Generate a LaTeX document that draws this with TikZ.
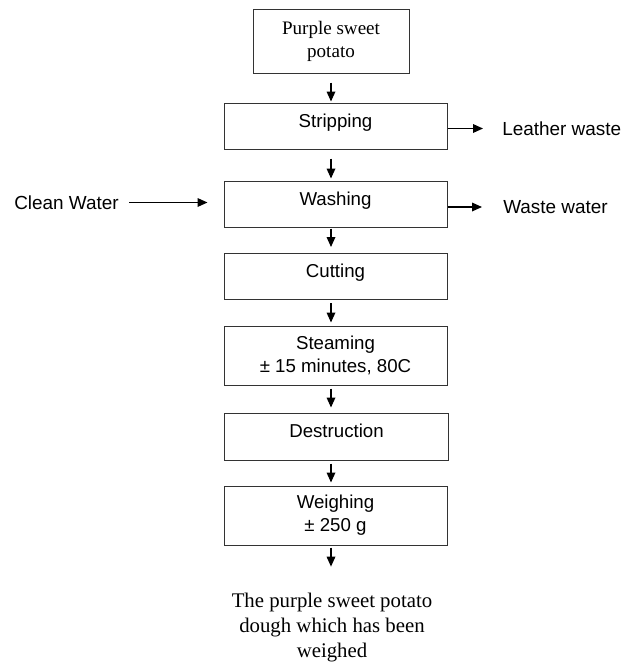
\documentclass[tikz,border=0pt]{standalone}
\usepackage{fontspec}
\setmainfont{Liberation Serif}
\newfontfamily\arialfont{Liberation Sans}
\usetikzlibrary{arrows.meta}

\begin{document}
\begin{tikzpicture}[x=0.75pt,y=0.75pt,yscale=-1,xscale=1,
	stepbox/.style={draw=black!80,line width=0.75pt,minimum width=167.25pt,minimum height=34.5pt,inner sep=0pt,align=center,font=\arialfont\fontsize{14}{17.25}\selectfont},
	onerow/.style={text height=10pt,text depth=8.5pt},
	tallbox/.style={minimum height=44.25pt},
	sidetext/.style={inner sep=0pt,anchor=west,font=\arialfont\fontsize{14.2}{17}\selectfont},
	flow/.style={-{Triangle[length=7.5pt,width=6.5pt]},line width=0.9pt}]
	\useasboundingbox (0,0) rectangle (624,665);
	% process boxes
	\node [stepbox,minimum width=117pt,minimum height=48pt,font=\fontsize{14.3}{17.25}\selectfont] (potato) at (331,41) {Purple sweet\\potato};
	\node [stepbox,onerow] (strip) at (335.5,126) {Stripping};
	\node [stepbox,onerow] (wash) at (335.5,204) {Washing};
	\node [stepbox,onerow] (cut) at (335.5,276.5) {Cutting};
	\node [stepbox,tallbox] (steam) at (335.5,355.5) {Steaming\\± 15 minutes, 80C};
	\node [stepbox,onerow,minimum width=168pt,minimum height=35.25pt] (destr) at (336.5,436.5) {Destruction};
	\node [stepbox,tallbox] (weigh) at (335.5,515.5) {Weighing\\± 250 g};
	\node [align=center,inner sep=0pt,font=\fontsize{15.6}{18.75}\selectfont] (result) at (332,628) {The purple sweet potato\\dough which has been\\weighed};
	% inputs and wastes
	\node [sidetext] (clean) at (14,202.5) {Clean Water};
	\node [sidetext] (leather) at (502,128.5) {Leather waste};
	\node [sidetext] (waste) at (503,207) {Waste water};
	% main line
	\foreach \a/\b/\s/\e in {potato/strip/6.75pt/0.75pt, strip/wash/6.75pt/1.5pt, wash/cut/0.75pt/4.5pt, cut/steam/2.25pt/2.25pt, steam/destr/2.25pt/3.75pt, destr/weigh/2.25pt/2.25pt}
		\draw [flow,shorten <=\s,shorten >=\e] (\a.south -| potato) -- (\b.north -| potato);
	\draw [flow,shorten <=1.5pt,shorten >=20pt] (weigh.south -| potato) -- (result.north -| potato);
	% side arrows
	\draw [flow,shorten <=7.5pt,shorten >=12pt] (clean.east) -- (clean.east -| wash.west);
	\draw [flow,shorten >=14.25pt] (strip.east |- leather) -- (leather.west);
	\draw [flow,shorten >=15.75pt] (wash.east |- waste) -- (waste.west);
\end{tikzpicture}
\end{document}
